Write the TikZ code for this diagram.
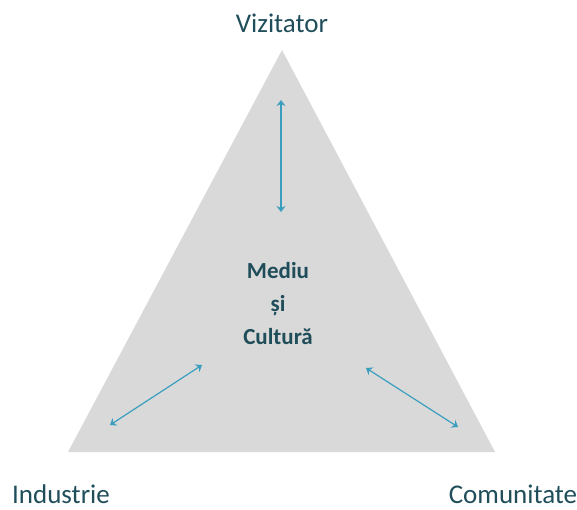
\documentclass[tikz,border=0pt]{standalone}
\usepackage{fontspec}
\setmainfont{Carlito}
\usepackage{xcolor}
\usetikzlibrary{arrows.meta,positioning}
\definecolor{tealtext}{HTML}{1F4E5A}
\definecolor{arrowblue}{HTML}{3A9FBF}
\definecolor{trigrey}{HTML}{D9D9D9}

\begin{document}
\begin{tikzpicture}[x=1pt, y=-1pt,
  corner/.style={font=\fontsize{27}{30}\selectfont, text=tealtext, inner sep=0pt},
  arrow/.style={{Stealth[length=6pt,width=9pt,inset=2pt]}-{Stealth[length=6pt,width=9pt,inset=2pt]}, arrowblue, line width=1.2pt}
]
\useasboundingbox (0,0) rectangle (577,509);
\coordinate (top) at (282,50);
\coordinate (left) at (68,452);
\coordinate (right) at (495,452);
\fill[trigrey] (top) -- (left) -- (right) -- cycle;
\node[corner, anchor=base] (vis) at (282,32) {Vizitator};
\node[corner, anchor=base] (ind) at (61,503) {Industrie};
\node[corner, anchor=base] (com) at (513,503) {Comunitate};
\node[font=\bfseries\fontsize{23}{33}\selectfont, text=tealtext, align=center] (mid) at (278,304) {Mediu\\și\\Cultură};
% arrows towards the centre
\coordinate (a1) at (281,100); \coordinate (a2) at (281,212);
\coordinate (b1) at (110,425); \coordinate (b2) at (202,365);
\coordinate (c1) at (366,368); \coordinate (c2) at (458,427);
\draw[arrow] (a1) -- (a2);
\draw[arrow] (b1) -- (b2);
\draw[arrow] (c1) -- (c2);
\end{tikzpicture}
\end{document}
